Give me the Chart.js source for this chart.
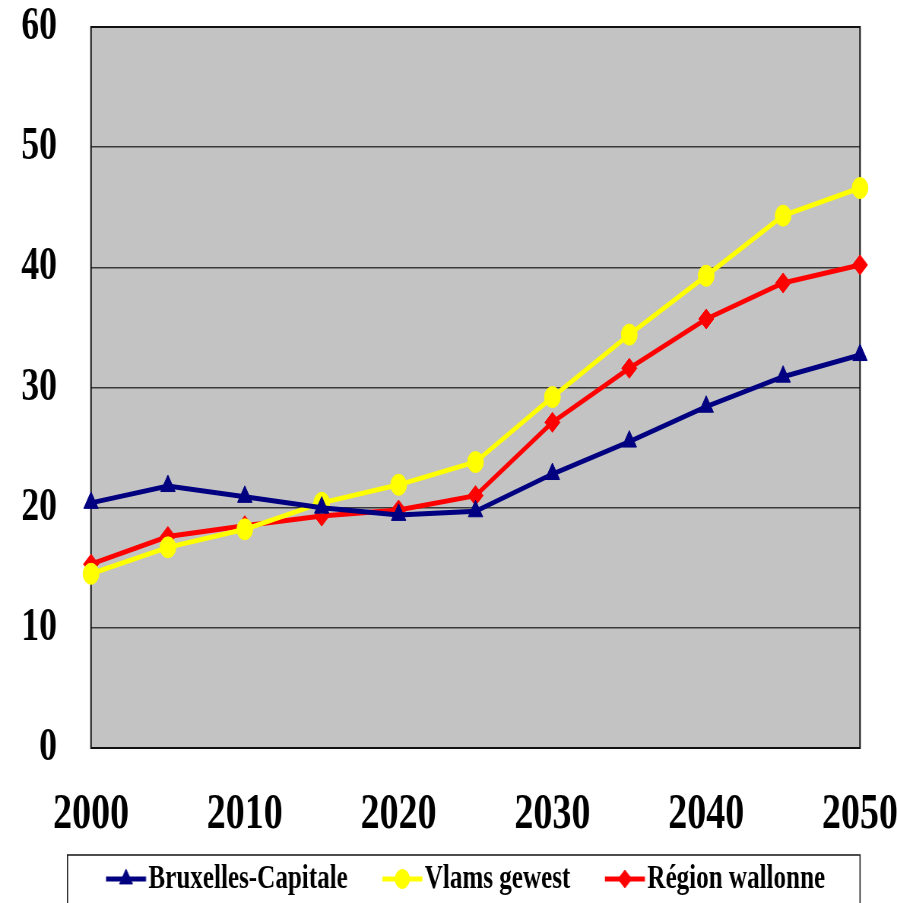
<!DOCTYPE html>
<html>
<head>
<meta charset="utf-8">
<script src="https://cdn.jsdelivr.net/npm/chart.js@4.4.1/dist/chart.umd.min.js"></script>
<style>
  html, body { margin: 0; padding: 0; background: #ffffff; overflow: hidden; }
  #wrap { position: absolute; left: 0; top: 0; transform-origin: 0 0; }
</style>
</head>
<body>
<div id="wrap"><canvas id="chart"></canvas></div>
<script>
// ---- data ----
const years = [2000, 2005, 2010, 2015, 2020, 2025, 2030, 2035, 2040, 2045, 2050];
const yTicks = [0, 10, 20, 30, 40, 50, 60];
const bruxelles = [20.4, 21.8, 20.9, 20.0, 19.4, 19.7, 22.8, 25.5, 28.4, 30.9, 32.7];
const vlaanderen = [14.5, 16.7, 18.2, 20.4, 21.9, 23.8, 29.2, 34.4, 39.3, 44.3, 46.6];
const wallonie = [15.3, 17.6, 18.5, 19.3, 19.8, 21.0, 27.1, 31.6, 35.7, 38.7, 40.2];
const seriesNames = ['Bruxelles-Capitale', 'Vlams gewest', 'Région wallonne'];

// ---- page geometry: the chart is drawn wide and squeezed horizontally ----
const H = 903;
const W = Math.round(897 / 0.76);
const SX = 897 / W;
const px = v => v / SX;           // page x -> canvas x

const wrap = document.getElementById('wrap');
wrap.style.width = W + 'px';
wrap.style.height = H + 'px';
wrap.style.transform = `scaleX(${SX})`;

const FONT_FAMILY = '"Times New Roman", "Liberation Serif", serif';
const LEGEND_FONT = 33;
const LEGEND_PAD = 10;
const LEGEND_LEAD = px(34.5) - LEGEND_PAD;   // blank space before each legend sample
const SAMPLE_LEN = px(40);
const SAMPLE_GAP = px(2.5);
const BOX_W = LEGEND_LEAD + SAMPLE_LEN + SAMPLE_GAP - LEGEND_FONT / 2;

const PLOT_LEFT = px(91);
const PLOT_RIGHT = px(860);
const PLOT_TOP = 27;
const PLOT_BOTTOM = 748;
const LEGEND_TOP = 852.5;
const LEGEND_START = px(106) - LEGEND_LEAD;  // left edge of the first legend item

const styles = [
  { color: '#000080', point: 'triangle', radius: 11 },
  { color: '#FFFF00', point: 'circle', radius: 10.5 },
  { color: '#FF0000', point: 'rectRot', radius: 10 }
];

// legend sample: a short line with the series marker in the middle
function makeSample(st) {
  const a = LEGEND_LEAD - BOX_W / 2;
  const b = LEGEND_LEAD + SAMPLE_LEN - BOX_W / 2;
  const hw = Math.ceil(Math.max(Math.abs(a), Math.abs(b)) + 2);
  const c = document.createElement('canvas');
  c.width = 2 * hw; c.height = 30;
  const g = c.getContext('2d');
  g.strokeStyle = st.color; g.lineWidth = 5;
  g.beginPath(); g.moveTo(hw + a, 15); g.lineTo(hw + b, 15); g.stroke();
  g.fillStyle = st.color; g.strokeStyle = st.color; g.lineWidth = 1;
  Chart.helpers.drawPoint(g, { pointStyle: st.point, radius: st.radius * 0.9, borderWidth: 1, rotation: 0 }, hw + (a + b) / 2, 15);
  return c;
}
const samples = styles.map(makeSample);

// no automatic room for overhanging tick labels: the plot box is fixed
function noOverhang(scale) {
  scale.paddingLeft = 0;
  scale.paddingRight = 0;
  scale.paddingTop = 0;
  scale.paddingBottom = 0;
}

const frame = {
  id: 'frame',
  afterLayout(chart) {
    const lg = chart.legend;
    if (lg) {
      const w = lg.right - lg.left;
      lg.left = LEGEND_START - LEGEND_PAD;
      lg.right = lg.left + w;
      lg.adjustHitBoxes();
    }
  },
  beforeDraw(chart) {
    const { ctx, chartArea: a } = chart;
    ctx.save();
    ctx.fillStyle = '#c3c3c3';
    ctx.fillRect(a.left, a.top, a.width, a.height);
    ctx.restore();
  },
  beforeDatasetsDraw(chart) {
    const { ctx, chartArea: a } = chart;
    ctx.save();
    ctx.strokeStyle = '#111111';
    ctx.lineWidth = 2;
    ctx.strokeRect(a.left, a.top, a.width, a.height);
    ctx.restore();
  },
  afterDraw(chart) {
    const { ctx } = chart;
    ctx.save();
    ctx.strokeStyle = '#222222';
    ctx.lineWidth = 1.6;
    ctx.strokeRect(px(67.5), 855, px(860) - px(67.5), 80);
    ctx.restore();
  }
};

const datasets = [bruxelles, vlaanderen, wallonie].map((vals, i) => ({
  label: seriesNames[i],
  data: vals,
  borderColor: styles[i].color,
  backgroundColor: styles[i].color,
  borderWidth: 5,
  pointStyle: styles[i].point,
  pointRadius: styles[i].radius,
  pointHoverRadius: styles[i].radius,
  pointBorderWidth: 1,
  pointBackgroundColor: styles[i].color,
  pointBorderColor: styles[i].color,
  tension: 0,
  clip: false
}));

new Chart(document.getElementById('chart'), {
  type: 'line',
  data: { labels: years, datasets },
  plugins: [frame],
  options: {
    responsive: true,
    maintainAspectRatio: false,
    devicePixelRatio: 1,
    animation: false,
    layout: {
      autoPadding: false,
      padding: { left: 0, right: W - PLOT_RIGHT, top: PLOT_TOP, bottom: H - LEGEND_TOP - (LEGEND_FONT + LEGEND_PAD + 10) }
    },
    plugins: {
      tooltip: { enabled: false },
      legend: {
        position: 'bottom',
        align: 'start',
        labels: {
          usePointStyle: true,
          pointStyleWidth: BOX_W,
          padding: LEGEND_PAD,
          color: '#000000',
          font: { family: FONT_FAMILY, size: LEGEND_FONT, weight: 'bold' },
          generateLabels: (chart) => chart.data.datasets.map((ds, i) => ({
            text: ds.label,
            pointStyle: samples[i],
            fillStyle: ds.borderColor,
            strokeStyle: ds.borderColor,
            lineWidth: 1,
            fontColor: '#000000',
            hidden: false,
            datasetIndex: i
          }))
        }
      }
    },
    scales: {
      x: {
        type: 'category',
        offset: false,
        grid: { display: false },
        border: { display: false },
        afterFit(scale) { scale.height = LEGEND_TOP - PLOT_BOTTOM; noOverhang(scale); },
        ticks: {
          autoSkip: false,
          maxRotation: 0,
          minRotation: 0,
          padding: 29,
          color: '#000000',
          font: { family: FONT_FAMILY, size: 50, weight: 'bold' },
          callback: (v, i) => (years[i] % 10 === 0 ? String(years[i]) : '')
        }
      },
      y: {
        min: 0,
        max: 60,
        afterBuildTicks(scale) { scale.ticks = yTicks.map(v => ({ value: v })); },
        afterFit(scale) { scale.width = PLOT_LEFT; noOverhang(scale); },
        grid: { color: '#3a3a3a', lineWidth: 1.5, drawTicks: false },
        border: { display: false },
        ticks: {
          padding: PLOT_LEFT - px(57),
          color: '#000000',
          font: { family: FONT_FAMILY, size: 47, weight: 'bold' }
        }
      }
    }
  }
});
</script>
</body>
</html>
